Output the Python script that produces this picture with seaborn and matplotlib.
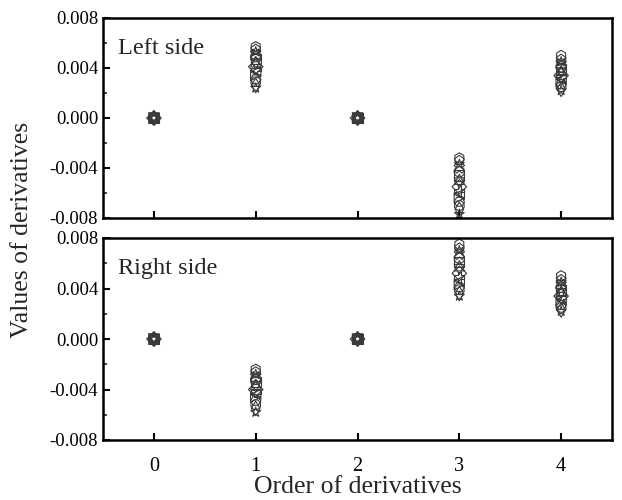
import matplotlib
matplotlib.use("Agg")
import matplotlib.pyplot as plt
from matplotlib.ticker import MultipleLocator, FormatStrFormatter
import seaborn as sns
import pandas as pd

sns.set_style("ticks")
plt.rcParams['font.family'] = ['Liberation Serif', 'DejaVu Serif']

orders = [0, 1, 2, 3, 4]
series = ["S1", "S2", "S3", "S4", "S5", "S6", "S7", "S8",
          "S9", "S10", "S11", "S12", "S13", "S14", "S15", "S16"]
markers = ["h", "p", "*", "X", "o", "s", "^", "v",
           "D", "P", "<", ">", "H", "8", "d", "*"]

left_d0 = [0.0] * 16
left_d1 = [0.0057, 0.0055, 0.0053, 0.0051, 0.0049, 0.0047, 0.0045, 0.0043,
           0.0041, 0.0039, 0.0037, 0.0034, 0.0031, 0.0029, 0.0026, 0.0024]
left_d2 = [0.0] * 16
left_d3 = [-0.0032, -0.0034, -0.0037, -0.0040, -0.0043, -0.0046, -0.0049, -0.0052,
           -0.0055, -0.0058, -0.0061, -0.0064, -0.0067, -0.0070, -0.0073, -0.0077]
left_d4 = [0.0050, 0.0047, 0.0045, 0.0043, 0.0041, 0.0039, 0.0038, 0.0036,
           0.0034, 0.0033, 0.0031, 0.0029, 0.0027, 0.0025, 0.0023, 0.0022]

right_d0 = [0.0] * 16
right_d1 = [-0.0024, -0.0026, -0.0028, -0.0030, -0.0032, -0.0034, -0.0036, -0.0038,
            -0.0040, -0.0042, -0.0044, -0.0046, -0.0049, -0.0052, -0.0055, -0.0058]
right_d2 = [0.0] * 16
right_d3 = [0.0075, 0.0072, 0.0070, 0.0067, 0.0064, 0.0061, 0.0058, 0.0055,
            0.0052, 0.0049, 0.0046, 0.0043, 0.0041, 0.0039, 0.0036, 0.0034]
right_d4 = [0.0050, 0.0047, 0.0045, 0.0043, 0.0041, 0.0039, 0.0038, 0.0036,
            0.0034, 0.0033, 0.0031, 0.0029, 0.0027, 0.0025, 0.0023, 0.0022]


def build(cols):
    rows = []
    for order, vals in zip(orders, cols):
        for s, v in zip(series, vals):
            rows.append({"order": order, "value": v, "series": s})
    return pd.DataFrame(rows)


left_df = build([left_d0, left_d1, left_d2, left_d3, left_d4])
right_df = build([right_d0, right_d1, right_d2, right_d3, right_d4])

fig = plt.figure(figsize=(6.22, 5.00), dpi=100)
ax1 = fig.add_axes([0.1656, 0.564, 0.8184, 0.400])
ax2 = fig.add_axes([0.1656, 0.120, 0.8184, 0.404])

marker_map = dict(zip(series, markers))

for ax, df, label in [(ax1, left_df, "Left side"), (ax2, right_df, "Right side")]:
    for s in series:
        sub = df[df["series"] == s]
        sns.scatterplot(data=sub, x="order", y="value", ax=ax, marker=marker_map[s],
                        facecolor="none", edgecolor="#3a3a3a", s=55,
                        linewidth=0.8, legend=False)
    ax.set_xlim(-0.5, 4.5)
    ax.set_ylim(-0.008, 0.008)
    ax.yaxis.set_major_locator(MultipleLocator(0.004))
    ax.yaxis.set_minor_locator(MultipleLocator(0.002))
    ax.yaxis.set_major_formatter(FormatStrFormatter("%.3f"))
    ax.set_xticks(orders)
    ax.tick_params(axis="both", which="major", direction="in", length=5, width=1.5,
                   labelsize=13.5, colors="black")
    ax.tick_params(axis="y", which="minor", direction="in", length=3, width=1.2)
    for sp in ax.spines.values():
        sp.set_linewidth(1.8)
        sp.set_color("black")
    ax.set_xlabel("")
    ax.set_ylabel("")
    ax.text(0.03, 0.85, label, transform=ax.transAxes, fontsize=17.5, ha="left", va="center")

ax1.tick_params(axis="x", labelbottom=False)
ax2.tick_params(axis="x", labelsize=14.5, pad=12)
ax2.set_xlabel("Order of derivatives", fontsize=18.5, labelpad=0)
fig.text(0.035, 0.54, "Values of derivatives", rotation=90, fontsize=18.5, ha="center", va="center")

fig.savefig("out.png", dpi=100)
